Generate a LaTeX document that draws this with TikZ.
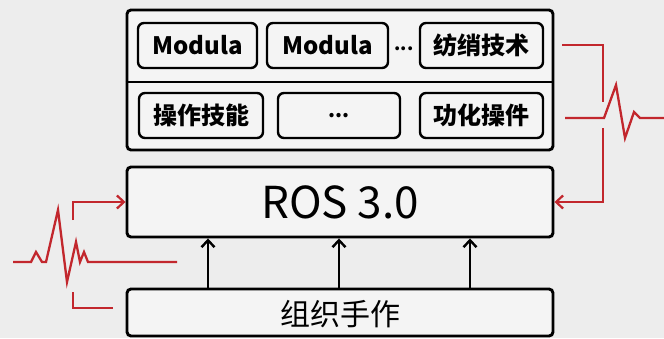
\documentclass[tikz,border=0pt]{standalone}
\usepackage{fontspec}
\setmainfont{Noto Sans CJK SC}
\usetikzlibrary{arrows.meta,calc}
\definecolor{bgc}{HTML}{EDEDED}
\definecolor{boxc}{HTML}{F4F4F4}
\definecolor{redc}{HTML}{C2272D}
\begin{document}
\begin{tikzpicture}[x=1pt,y=-1pt,
  bigbox/.style={draw=black,line width=2.9pt,fill=boxc,rounded corners=4pt,inner sep=0pt},
  modbox/.style={draw=black,line width=2.4pt,fill=boxc,rounded corners=6pt,inner sep=0pt,minimum height=45pt,font=\fontsize{24}{26}\selectfont\bfseries},
  blackarr/.style={line width=2.6pt,-{Straight Barb[length=7pt,width=13pt,line width=2.4pt]}},
  redline/.style={draw=redc,line width=2.3pt,line join=miter},
  redarr/.style={redline,-{Straight Barb[length=7pt,width=13pt,line width=2.2pt]}}]
\fill[bgc] (0,0) rectangle (664,338);
\useasboundingbox (0,0) rectangle (664,338);
% top container
\node[bigbox,minimum width=426pt,minimum height=140pt] (outer) at (340,80) {};
\draw[line width=2.6pt] (outer.west |- 0,82) -- (outer.east |- 0,82);
\node[modbox,minimum width=119pt] (m1) at (197.5,45.5) {Modula};
\node[modbox,minimum width=121pt] (m2) at (327.5,45.5) {Modula};
\node[font=\fontsize{18}{20}\selectfont\bfseries,anchor=base] (dots1) at (404,50) {...};
\node[modbox,minimum width=123pt] (m3) at (481.5,45.5) {纺绡技术};
\node[modbox,minimum width=124pt] (b1) at (201,115.5) {操作技能};
\node[modbox,minimum width=122pt,font=\fontsize{20}{22}\selectfont\bfseries] (b2) at (339,115.5) {...};
\node[modbox,minimum width=123pt] (b3) at (481.5,115.5) {功化操件};
% ROS
\node[bigbox,minimum width=426pt,minimum height=70pt,font=\fontsize{44}{48}\selectfont] (ros) at (340,202) {ROS 3.0};
% bottom
\node[bigbox,minimum width=426pt,minimum height=47pt,font=\fontsize{30}{32}\selectfont,text depth=-4pt] (bot) at (340,312.5) {组织手作};
% black arrows
\draw[blackarr] (208,0 |- bot.north) -- (208,0 |- ros.south);
\draw[blackarr] (339,0 |- bot.north) -- (339,0 |- ros.south);
\draw[blackarr] (470,0 |- bot.north) -- (470,0 |- ros.south);
% left red signal
\coordinate (la) at (73,220);
\coordinate (pl0) at (13,262);
\coordinate (pl1) at (177,262);
\coordinate (lb) at (73,292);
\coordinate (lc) at (113,308);
\draw[redarr] (la) |- (ros.west);
\draw[redline] (pl0) -- (31,262) -- (36,252) -- (42,262) -- (46,262) -- (58,210) -- (67,282) -- (76,242) -- (80,262) -- (84,252) -- (88,262) -- (pl1);
\draw[redline] (lb) |- (lc);
% right red signal
\coordinate (ra) at (562,45);
\coordinate (rb) at (603,102);
\coordinate (pr0) at (565,118);
\coordinate (pr1) at (664,118);
\coordinate (rc) at (603,128);
\draw[redline] (ra) -| (rb);
\draw[redline] (pr0) -- (604,118) -- (616,85) -- (625,138) -- (634,112) -- (640,118) -- (pr1);
\draw[redarr] (rc) |- (ros.east);
\end{tikzpicture}
\end{document}
